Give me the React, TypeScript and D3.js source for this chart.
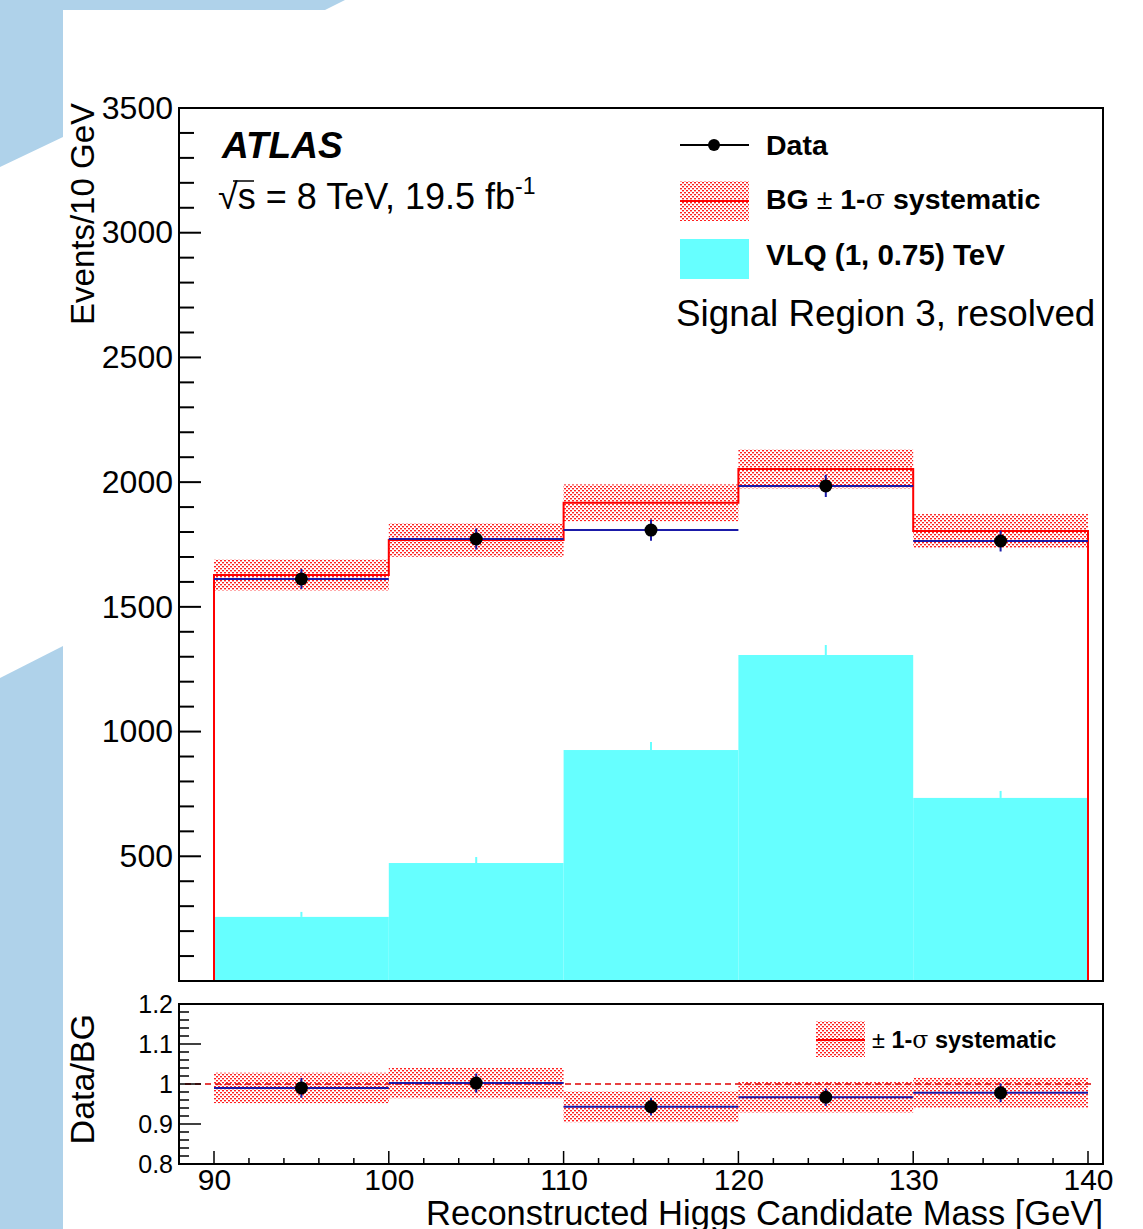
import * as d3 from 'd3'
import { useRef, useEffect } from 'react'

// bins of reconstructed Higgs candidate mass [GeV]
const binEdges = [90, 100, 110, 120, 130, 140]
const dataCounts = [1612, 1772, 1808, 1985, 1764]
const bgCounts = [1628, 1768, 1917, 2053, 1804]
const bgSyst = [62, 67, 74, 78, 68]
const vlqCounts = [257, 473, 926, 1307, 734]
const vlqErr = [20, 24, 32, 40, 28]

const yTicks = [500, 1000, 1500, 2000, 2500, 3000, 3500]
const ratioTicks = [0.8, 0.9, 1, 1.1, 1.2]
const xTicks = [90, 100, 110, 120, 130, 140]

const FONT = 'Liberation Sans, Arial, Helvetica, sans-serif'

const App = () => {
  const svgRef = useRef(null)

  const W = 1143
  const H = 1229
  const left = 179
  const right = 1103
  const mainTop = 108
  const mainBottom = 981
  const ratTop = 1004
  const ratBottom = 1164

  useEffect(() => {
    const svg = d3.select(svgRef.current)
    svg.selectAll('*').remove() // clear

    const x = d3.scaleLinear().domain([90, 140]).range([214, 1088])
    const y = d3.scaleLinear().domain([0, 3500]).range([mainBottom, mainTop])
    const yr = d3.scaleLinear().domain([0.8, 1.2]).range([ratBottom, ratTop])

    const bins = dataCounts.map((d, i) => ({
      lo: binEdges[i],
      hi: binEdges[i + 1],
      data: d,
      bg: bgCounts[i],
      syst: bgSyst[i],
      vlq: vlqCounts[i],
      vlqErr: vlqErr[i],
      ratio: d / bgCounts[i],
      ratioErr: Math.sqrt(d) / bgCounts[i],
      ratioSyst: bgSyst[i] / bgCounts[i],
    }))

    // dotted red pattern for systematic band
    const defs = svg.append('defs')
    const pat = defs
      .append('pattern')
      .attr('id', 'dots')
      .attr('patternUnits', 'userSpaceOnUse')
      .attr('width', 4)
      .attr('height', 4)
    pat.append('rect').attr('x', 0).attr('y', 0).attr('width', 2).attr('height', 1.4).attr('fill', '#ff2020')
    pat.append('rect').attr('x', 2).attr('y', 2).attr('width', 2).attr('height', 1.4).attr('fill', '#ff2020')

    // page decoration
    const bgc = '#afd2ea'
    svg.append('path').attr('d', `M0,0 L345,0 L325,10 L63,10 L63,137 L0,167 Z`).attr('fill', bgc)
    svg.append('path').attr('d', `M0,678 L63,646 L63,${H} L0,${H} Z`).attr('fill', bgc)

    // ===== main panel =====
    const main = svg.append('g')

    // signal histogram
    main
      .append('g')
      .selectAll('rect')
      .data(bins)
      .enter()
      .append('rect')
      .attr('x', d => x(d.lo))
      .attr('y', d => y(d.vlq))
      .attr('width', d => x(d.hi) - x(d.lo))
      .attr('height', d => y(0) - y(d.vlq))
      .attr('fill', '#66ffff')
    main
      .append('g')
      .selectAll('line')
      .data(bins)
      .enter()
      .append('line')
      .attr('x1', d => x((d.lo + d.hi) / 2))
      .attr('x2', d => x((d.lo + d.hi) / 2))
      .attr('y1', d => y(d.vlq))
      .attr('y2', d => y(d.vlq + d.vlqErr))
      .attr('stroke', '#66ffff')
      .attr('stroke-width', 2)

    // systematic band
    main
      .append('g')
      .selectAll('rect')
      .data(bins)
      .enter()
      .append('rect')
      .attr('x', d => x(d.lo))
      .attr('y', d => y(d.bg + d.syst))
      .attr('width', d => x(d.hi) - x(d.lo))
      .attr('height', d => y(d.bg - d.syst) - y(d.bg + d.syst))
      .attr('fill', 'url(#dots)')

    // BG outline
    const bgPts: [number, number][] = [[90, 0]]
    bins.forEach(d => {
      bgPts.push([d.lo, d.bg])
      bgPts.push([d.hi, d.bg])
    })
    bgPts.push([140, 0])
    main
      .append('path')
      .attr('d', d3.line().x(d => x(d[0])).y(d => y(d[1]))(bgPts))
      .attr('fill', 'none')
      .attr('stroke', '#ff0000')
      .attr('stroke-width', 2)

    // data: blue horizontal bars + vertical errors + markers
    main
      .append('g')
      .selectAll('line')
      .data(bins)
      .enter()
      .append('line')
      .attr('x1', d => x(d.lo))
      .attr('x2', d => x(d.hi))
      .attr('y1', d => y(d.data))
      .attr('y2', d => y(d.data))
      .attr('stroke', '#1a1aa8')
      .attr('stroke-width', 2)
    main
      .append('g')
      .selectAll('line')
      .data(bins)
      .enter()
      .append('line')
      .attr('x1', d => x((d.lo + d.hi) / 2))
      .attr('x2', d => x((d.lo + d.hi) / 2))
      .attr('y1', d => y(d.data - Math.sqrt(d.data)))
      .attr('y2', d => y(d.data + Math.sqrt(d.data)))
      .attr('stroke', '#1a1aa8')
      .attr('stroke-width', 2)
    main
      .append('g')
      .selectAll('circle')
      .data(bins)
      .enter()
      .append('circle')
      .attr('cx', d => x((d.lo + d.hi) / 2))
      .attr('cy', d => y(d.data))
      .attr('r', 6.5)
      .attr('fill', '#000')

    // frame
    main
      .append('rect')
      .attr('x', left)
      .attr('y', mainTop)
      .attr('width', right - left)
      .attr('height', mainBottom - mainTop)
      .attr('fill', 'none')
      .attr('stroke', '#000')
      .attr('stroke-width', 2)

    // y axis
    const yAxis = d3.axisLeft(y).tickValues(yTicks).tickSize(0).tickPadding(6).tickFormat(d3.format('d'))
    const ya = main
      .append('g')
      .attr('transform', `translate(${left},0)`)
      .call(yAxis)
    ya.select('.domain').remove()
    ya.selectAll('text').attr('font-size', 32).attr('font-family', FONT).attr('fill', '#000')
    main
      .append('g')
      .selectAll('line')
      .data(d3.range(100, 3500, 100))
      .enter()
      .append('line')
      .attr('x1', left)
      .attr('x2', d => left + (d % 500 === 0 ? 22 : 15))
      .attr('y1', d => y(d))
      .attr('y2', d => y(d))
      .attr('stroke', '#000')
      .attr('stroke-width', 2)

    main
      .append('text')
      .attr('transform', `translate(94,${mainTop - 5}) rotate(-90)`)
      .attr('text-anchor', 'end')
      .attr('font-size', 33)
      .attr('font-family', FONT)
      .text('Events/10 GeV')

    // labels
    main
      .append('text')
      .attr('x', 222)
      .attr('y', 158)
      .attr('font-size', 37)
      .attr('font-weight', 'bold')
      .attr('font-style', 'italic')
      .attr('font-family', FONT)
      .text('ATLAS')
    const lum = main
      .append('text')
      .attr('x', 218)
      .attr('y', 209)
      .attr('font-size', 36)
      .attr('font-family', FONT)
    lum.append('tspan').text('\u221As = 8 TeV, 19.5 fb')
    lum.append('tspan').attr('dy', -15).attr('font-size', 23).text('-1')
    main
      .append('line')
      .attr('x1', 233)
      .attr('x2', 254)
      .attr('y1', 181)
      .attr('y2', 181)
      .attr('stroke', '#000')
      .attr('stroke-width', 1.5)

    // legend
    const lg = main.append('g').attr('font-family', FONT).attr('font-weight', 'bold').attr('font-size', 28.5)
    lg.append('line').attr('x1', 680).attr('x2', 749).attr('y1', 145).attr('y2', 145).attr('stroke', '#000').attr('stroke-width', 2)
    lg.append('circle').attr('cx', 714).attr('cy', 145).attr('r', 6).attr('fill', '#000')
    lg.append('text').attr('x', 766).attr('y', 155).text('Data')
    lg.append('rect').attr('x', 680).attr('y', 181).attr('width', 69).attr('height', 40).attr('fill', 'url(#dots)')
    lg.append('line').attr('x1', 680).attr('x2', 749).attr('y1', 201).attr('y2', 201).attr('stroke', '#ff0000').attr('stroke-width', 2)
    const bgl = lg.append('text').attr('x', 766).attr('y', 209)
    bgl.append('tspan').text('BG ')
    bgl.append('tspan').attr('font-weight', 'normal').text('\u00B1')
    bgl.append('tspan').text(' 1-')
    bgl.append('tspan').attr('font-weight', 'normal').attr('font-family', 'DejaVu Serif, serif').text('\u03C3')
    bgl.append('tspan').text(' systematic')
    lg.append('rect').attr('x', 680).attr('y', 239).attr('width', 69).attr('height', 40).attr('fill', '#66ffff')
    lg.append('text').attr('x', 766).attr('y', 265).attr('font-size', 29.5).text('VLQ (1, 0.75) TeV')
    main
      .append('text')
      .attr('x', 676)
      .attr('y', 326)
      .attr('font-size', 36.8)
      .attr('font-family', FONT)
      .text('Signal Region 3, resolved')

    // ===== ratio panel =====
    const rat = svg.append('g')
    rat
      .append('g')
      .selectAll('rect')
      .data(bins)
      .enter()
      .append('rect')
      .attr('x', d => x(d.lo))
      .attr('y', d => yr(d.ratio + d.ratioSyst))
      .attr('width', d => x(d.hi) - x(d.lo))
      .attr('height', d => yr(d.ratio - d.ratioSyst) - yr(d.ratio + d.ratioSyst))
      .attr('fill', 'url(#dots)')
    rat
      .append('line')
      .attr('x1', 185)
      .attr('x2', 1094)
      .attr('y1', yr(1))
      .attr('y2', yr(1))
      .attr('stroke', '#e00000')
      .attr('stroke-width', 1.5)
      .attr('stroke-dasharray', '6 4')
    rat
      .append('g')
      .selectAll('line')
      .data(bins)
      .enter()
      .append('line')
      .attr('x1', d => x(d.lo))
      .attr('x2', d => x(d.hi))
      .attr('y1', d => yr(d.ratio))
      .attr('y2', d => yr(d.ratio))
      .attr('stroke', '#1a1aa8')
      .attr('stroke-width', 2)
    rat
      .append('g')
      .selectAll('line')
      .data(bins)
      .enter()
      .append('line')
      .attr('x1', d => x((d.lo + d.hi) / 2))
      .attr('x2', d => x((d.lo + d.hi) / 2))
      .attr('y1', d => yr(d.ratio - d.ratioErr))
      .attr('y2', d => yr(d.ratio + d.ratioErr))
      .attr('stroke', '#1a1aa8')
      .attr('stroke-width', 2)
    rat
      .append('g')
      .selectAll('circle')
      .data(bins)
      .enter()
      .append('circle')
      .attr('cx', d => x((d.lo + d.hi) / 2))
      .attr('cy', d => yr(d.ratio))
      .attr('r', 6.5)
      .attr('fill', '#000')

    rat
      .append('rect')
      .attr('x', left)
      .attr('y', ratTop)
      .attr('width', right - left)
      .attr('height', ratBottom - ratTop)
      .attr('fill', 'none')
      .attr('stroke', '#000')
      .attr('stroke-width', 2)

    // ratio y axis
    const ryAxis = d3.axisLeft(yr).tickValues(ratioTicks).tickSize(0).tickPadding(6).tickFormat(d3.format('~g'))
    const rya = rat.append('g').attr('transform', `translate(${left},0)`).call(ryAxis)
    rya.select('.domain').remove()
    rya.selectAll('text').attr('font-size', 25).attr('font-family', FONT).attr('fill', '#000')
    rat
      .append('g')
      .selectAll('line')
      .data(d3.range(0.82, 1.2, 0.02))
      .enter()
      .append('line')
      .attr('x1', left)
      .attr('x2', (d, i) => left + ((i + 1) % 5 === 0 ? 22 : 10))
      .attr('y1', d => yr(d))
      .attr('y2', d => yr(d))
      .attr('stroke', '#000')
      .attr('stroke-width', 1.5)

    // x axis
    const xAxis = d3.axisBottom(x).tickValues(xTicks).tickSize(0).tickPadding(5)
    const xa = rat.append('g').attr('transform', `translate(0,${ratBottom})`).call(xAxis)
    xa.select('.domain').remove()
    xa.selectAll('text').attr('font-size', 30).attr('font-family', FONT).attr('fill', '#000')
    rat
      .append('g')
      .selectAll('line')
      .data(d3.range(90, 141, 2))
      .enter()
      .append('line')
      .attr('x1', d => x(d))
      .attr('x2', d => x(d))
      .attr('y1', ratBottom)
      .attr('y2', d => ratBottom - (d % 10 === 0 ? 13 : 6))
      .attr('stroke', '#000')
      .attr('stroke-width', 1.5)

    rat
      .append('text')
      .attr('x', right)
      .attr('y', 1225)
      .attr('text-anchor', 'end')
      .attr('font-size', 34.5)
      .attr('font-family', FONT)
      .text('Reconstructed Higgs Candidate Mass [GeV]')
    rat
      .append('text')
      .attr('transform', `translate(94,1014) rotate(-90)`)
      .attr('text-anchor', 'end')
      .attr('font-size', 34)
      .attr('font-family', FONT)
      .text('Data/BG')

    // ratio legend
    const rl = rat.append('g').attr('font-family', FONT).attr('font-size', 23.5).attr('font-weight', 'bold')
    rl.append('rect').attr('x', 816).attr('y', 1021).attr('width', 49).attr('height', 36).attr('fill', 'url(#dots)')
    rl.append('line').attr('x1', 816).attr('x2', 865).attr('y1', 1040).attr('y2', 1040).attr('stroke', '#ff0000').attr('stroke-width', 2)
    const rlt = rl.append('text').attr('x', 872).attr('y', 1048)
    rlt.append('tspan').attr('font-weight', 'normal').text('\u00B1')
    rlt.append('tspan').text(' 1-')
    rlt.append('tspan').attr('font-weight', 'normal').attr('font-family', 'DejaVu Serif, serif').text('\u03C3')
    rlt.append('tspan').text(' systematic')
  }, [])

  return (
    <svg
      ref={svgRef}
      width={W}
      height={H}
      style={{ position: 'absolute', left: 0, top: 0, background: '#fff' }}
    ></svg>
  )
}

export default App
